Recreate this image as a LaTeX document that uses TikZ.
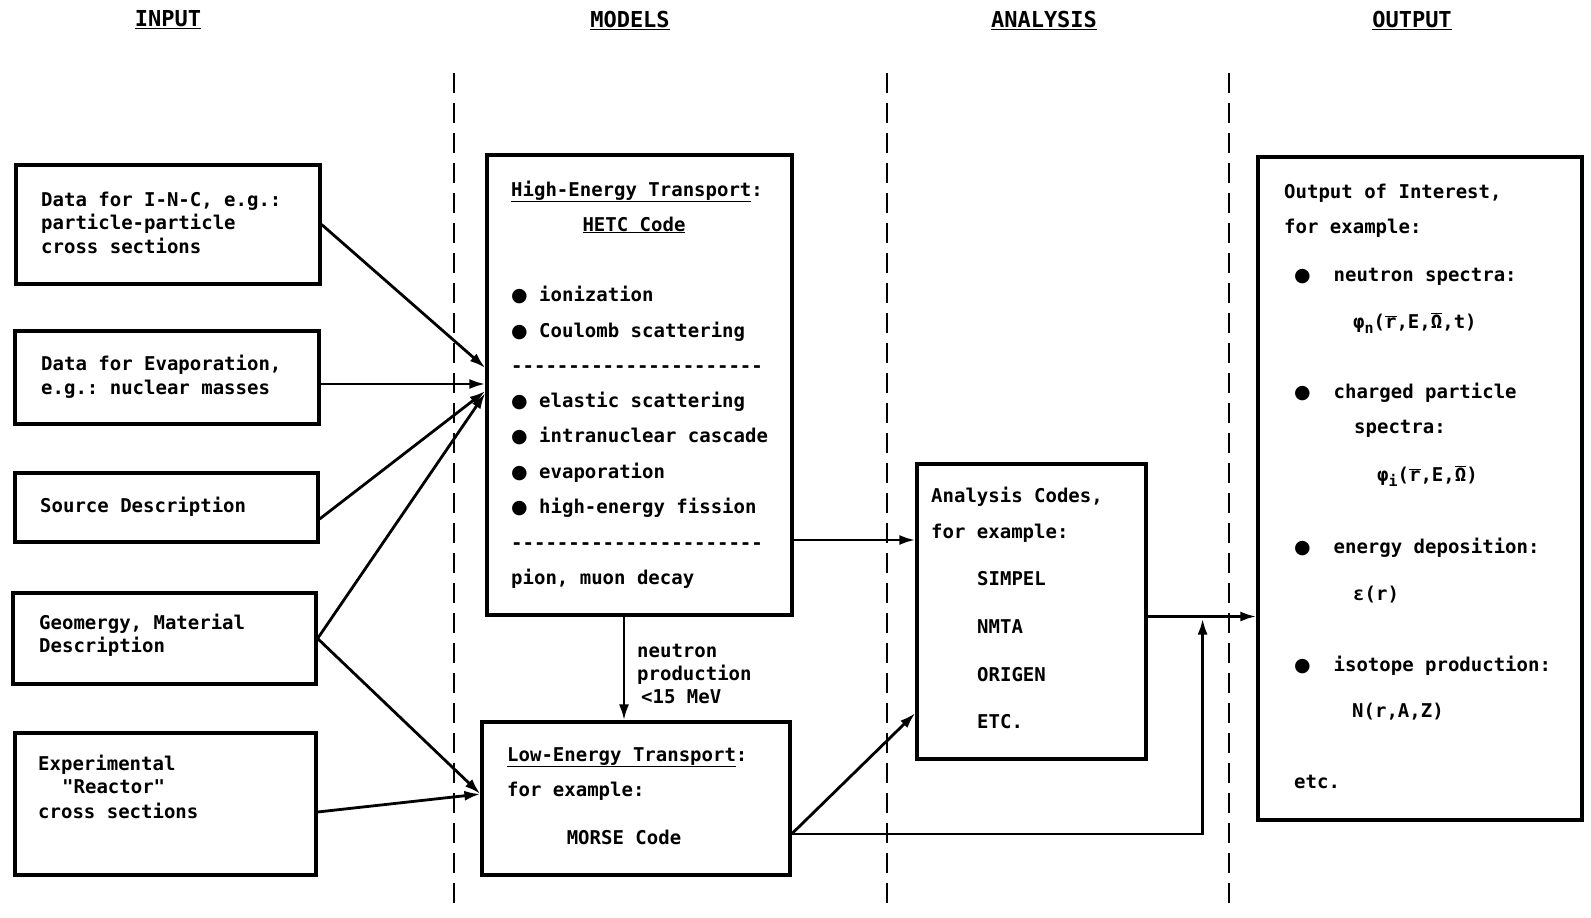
\documentclass[tikz,border=0pt]{standalone}
\usepackage{fontspec}
\setmainfont{DejaVu Sans Mono}
\setmonofont{DejaVu Sans Mono}
\newfontfamily\symf{DejaVu Sans}
\usetikzlibrary{arrows.meta,calc}
\newcommand{\ovl}[1]{$\overline{\mbox{#1}}$}
\newcommand{\bul}{{\symf ●}}
\newcommand{\hyrule}{-{}-{}-{}-{}-{}-{}-{}-{}-{}-{}-{}-{}-{}-{}-{}-{}-{}-{}-{}-{}-{}-{}}
\begin{document}
\begin{tikzpicture}[x=1pt,y=-1pt,
  box/.style={draw,line width=3.2pt,inner sep=0pt},
  txt/.style={inner sep=0pt,anchor=west,font=\fontsize{19}{23}\selectfont\ttfamily\bfseries,text height=14pt,text depth=4pt},
  hdr/.style={inner sep=0pt,font=\fontsize{22}{26}\selectfont\ttfamily\bfseries},
  sep/.style={line width=2.4pt,dash pattern=on 20pt off 10pt},
  arr/.style={line width=2.8pt,-{Latex[length=16pt,width=10pt]}}]
\useasboundingbox (0,0) rectangle (1591,918);

% headers
\node[hdr] (hin) at (168,20) {\underline{INPUT}};
\node[hdr] (hmo) at (630,20) {\underline{MODELS}};
\node[hdr] (han) at (1044,20) {\underline{ANALYSIS}};
\node[hdr] (hou) at (1412,20) {\underline{OUTPUT}};

% separators
\draw[sep] (454,73) -- (454,913);
\draw[sep] (887,73) -- (887,913);
\draw[sep] (1229,73) -- (1229,913);

% boxes
\node[box,minimum width=304pt,minimum height=119pt] (b1) at (168,224.5) {};
\node[box,minimum width=304pt,minimum height=93pt] (b2) at (167,377.5) {};
\node[box,minimum width=303pt,minimum height=69pt] (b3) at (166.5,507.5) {};
\node[box,minimum width=303pt,minimum height=91pt] (b4) at (164.5,638.5) {};
\node[box,minimum width=301pt,minimum height=142pt] (b5) at (165.5,804) {};
\node[box,minimum width=305pt,minimum height=460pt] (hetc) at (639.5,385) {};
\node[box,minimum width=308pt,minimum height=153pt] (let) at (636,798.5) {};
\node[box,minimum width=229pt,minimum height=295pt] (ana) at (1031.5,611.5) {};
\node[box,minimum width=324pt,minimum height=663pt] (out) at (1420,488.5) {};

% input texts
\node[txt] (t11) at (41,201) {Data for I-N-C, e.g.:};
\node[txt] (t12) at (41,224) {particle-particle};
\node[txt] (t13) at (41,248) {cross sections};
\node[txt] (t21) at (41,365) {Data for Evaporation,};
\node[txt] (t22) at (41,389) {e.g.: nuclear masses};
\node[txt] (t31) at (40,507) {Source Description};
\node[txt] (t41) at (39,624) {Geomergy, Material};
\node[txt] (t42) at (39,647) {Description};
\node[txt] (t51) at (38,765) {Experimental};
\node[txt] (t52) at (62,788) {"Reactor"};
\node[txt] (t53) at (38,813) {cross sections};

% HETC texts
\node[txt] (m1) at (511,191) {\underline{High-Energy Transport}:};
\node[txt,anchor=center] (m2) at (634,226) {\underline{HETC Code}};
\node[txt] (m3) at (511,296) {\bul\ ionization};
\node[txt] (m4) at (511,332) {\bul\ Coulomb scattering};
\node[txt] (m5) at (511,367) {\hyrule};
\node[txt] (m6) at (511,402) {\bul\ elastic scattering};
\node[txt] (m7) at (511,437) {\bul\ intranuclear cascade};
\node[txt] (m8) at (511,473) {\bul\ evaporation};
\node[txt] (m9) at (511,508) {\bul\ high-energy fission};
\node[txt] (m10) at (511,544) {\hyrule};
\node[txt] (m11) at (511,579) {pion, muon decay};

% LET texts
\node[txt] (l1) at (507,756) {\underline{Low-Energy Transport}:};
\node[txt] (l2) at (507,791) {for example:};
\node[txt,anchor=center] (l3) at (624,839) {MORSE Code};

% neutron label
\node[txt] (n1) at (637,652) {neutron};
\node[txt] (n2) at (637,675) {production};
\node[txt] (n3) at (641,698) {<15 MeV};

% analysis texts
\node[txt] (a1) at (931,497) {Analysis Codes,};
\node[txt] (a2) at (931,533) {for example:};
\node[txt] (a3) at (977,580) {SIMPEL};
\node[txt] (a4) at (977,628) {NMTA};
\node[txt] (a5) at (977,676) {ORIGEN};
\node[txt] (a6) at (977,723) {ETC.};

% output texts
\node[txt] (o1) at (1284,193) {Output of Interest,};
\node[txt] (o2) at (1284,228) {for example:};
\node[txt] (o3) at (1294,276) {\bul\ \ neutron spectra:};
\node[txt] (o4) at (1353,323) {φ\raisebox{-0.5ex}{\fontsize{15}{15}\selectfont n}(\ovl{r},E,\ovl{Ω},t)};
\node[txt] (o5) at (1294,393) {\bul\ \ charged particle};
\node[txt] (o6) at (1354,428) {spectra:};
\node[txt] (o7) at (1377,476) {φ\raisebox{-0.5ex}{\fontsize{15}{15}\selectfont i}(\ovl{r},E,\ovl{Ω})};
\node[txt] (o8) at (1294,548) {\bul\ \ energy deposition:};
\node[txt] (o9) at (1353,595) {ε(r)};
\node[txt] (o10) at (1294,666) {\bul\ \ isotope production:};
\node[txt] (o11) at (1352,712) {N(r,A,Z)};
\node[txt] (o12) at (1294,783) {etc.};

% connectors
\coordinate (hA) at ($(hetc.west)+(0,-17)$);
\coordinate (hB) at ($(hetc.west)+(0,-1)$);
\coordinate (hC) at ($(hetc.west)+(0,6)$);
\coordinate (hD) at ($(hetc.west)+(0,8)$);
\coordinate (lA) at ($(let.west)+(0,-4.5)$);
\draw[arr] (b1.east) -- (hA);
\draw[arr] ($(b2.east)+(0,6.5)$) -- (hB);
\draw[arr] ($(b3.east)+(0,11.5)$) -- (hC);
\draw[arr] (b4.east) -- (hD);
\draw[arr] (b4.east) -- (lA);
\draw[arr] ($(b5.east)+(0,8)$) -- (lA);
\draw[arr] ($(hetc.east)+(0,155)$) -- ($(ana.west)+(0,-71.5)$);
\coordinate (nd) at ($(hetc.south)+(-15.5,0)$);
\draw[arr] (nd) -- (nd |- let.north);
\coordinate (ls) at ($(let.east)+(0,35.5)$);
\coordinate (ao) at ($(ana.east)+(0,5)$);
\coordinate (up) at ($(ana.east)+(55,7)$);
\draw[arr] (ls) -- ($(ana.west)+(0,101.5)$);
\draw[arr] (ls) -| (up);
\draw[arr] (ao) -- (ao -| out.west);
\end{tikzpicture}
\end{document}
